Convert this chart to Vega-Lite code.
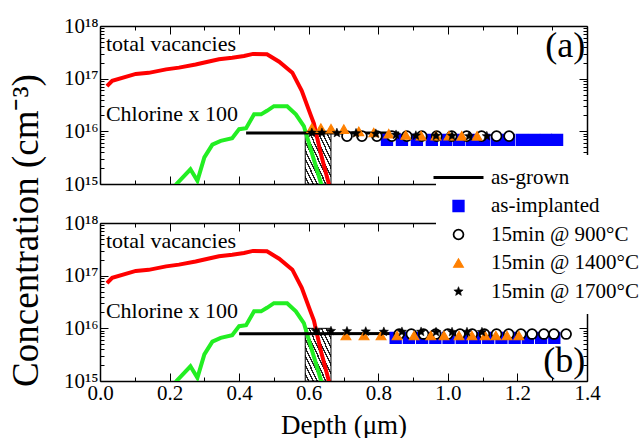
{
  "$schema": "https://vega.github.io/schema/vega-lite/v6.json",
  "padding": {"left": 8, "top": 15, "right": 0, "bottom": 0},
  "spacing": 39,
  "bounds": "flush",
  "title": {"text": "Concentration (cm⁻³)", "orient": "left", "anchor": "middle", "font": "Liberation Serif", "fontSize": 37, "fontWeight": "normal", "color": "black", "offset": 17, "dx": -4},
  "config": {
    "font": "Liberation Serif",
    "view": {"stroke": null},
    "axis": {"labelFont": "Liberation Serif", "titleFont": "Liberation Serif", "labelFontSize": 21, "titleFontSize": 27, "titleFontWeight": "normal", "domainColor": "black", "domainWidth": 1.5, "tickColor": "black", "tickWidth": 1, "labelColor": "black", "titleColor": "black", "grid": false, "labelFlush": false, "labelOverlap": false},
    "legend": {"orient": "none", "legendX": 336, "legendY": 129, "fillColor": "white", "padding": 12, "labelFont": "Liberation Serif", "labelFontSize": 21, "labelColor": "black", "labelOffset": 22, "rowPadding": 6.5, "zindex": 1, "symbolLimit": 0, "labelLimit": 300}
  },
  "datasets": {
    "vac": [
      {"d": 0.02, "c": 7.2e16}, {"d": 0.035, "c": 9.1e16}, {"d": 0.103, "c": 1.23e17}, {"d": 0.14, "c": 1.29e17},
      {"d": 0.19, "c": 1.5e17}, {"d": 0.227, "c": 1.62e17}, {"d": 0.275, "c": 1.86e17}, {"d": 0.31, "c": 2.1e17},
      {"d": 0.342, "c": 2.34e17}, {"d": 0.38, "c": 2.5e17}, {"d": 0.414, "c": 2.69e17}, {"d": 0.44, "c": 2.95e17},
      {"d": 0.48, "c": 2.9e17}, {"d": 0.515, "c": 2.1e17}, {"d": 0.553, "c": 1.3e17}, {"d": 0.58, "c": 5.9e16},
      {"d": 0.605, "c": 2.1e16}, {"d": 0.615, "c": 1.4e16}, {"d": 0.635, "c": 3.7e15}, {"d": 0.658, "c": 1.0e15},
      {"d": 0.665, "c": 7e14}
    ],
    "cl": [
      {"d": 0.21, "c": 8e14}, {"d": 0.22, "c": 1.0e15}, {"d": 0.26, "c": 1.9e15}, {"d": 0.28, "c": 1.15e15},
      {"d": 0.30, "c": 3.2e15}, {"d": 0.323, "c": 5.6e15}, {"d": 0.347, "c": 6.6e15}, {"d": 0.38, "c": 7.4e15},
      {"d": 0.40, "c": 1.1e16}, {"d": 0.42, "c": 1.15e16}, {"d": 0.443, "c": 2.1e16}, {"d": 0.463, "c": 2.1e16},
      {"d": 0.48, "c": 2.45e16}, {"d": 0.50, "c": 3.0e16}, {"d": 0.538, "c": 3.0e16}, {"d": 0.563, "c": 2.1e16},
      {"d": 0.586, "c": 1.26e16}, {"d": 0.61, "c": 3.7e15}, {"d": 0.635, "c": 1.05e15}, {"d": 0.642, "c": 7e14}
    ],
    "hatch": [{"d": 0.59, "d2": 0.664, "c": 1e15, "c2": 1e16}],
    "grown": [
      {"panel": "a", "series": "as-grown", "d": 0.42, "c": 9.3e15}, {"panel": "a", "series": "as-grown", "d": 0.86, "c": 9.3e15},
      {"panel": "b", "series": "as-grown", "d": 0.40, "c": 7.9e15}, {"panel": "b", "series": "as-grown", "d": 0.96, "c": 8.0e15}
    ],
    "pts": [
      {"panel": "a", "series": "as-implanted", "d": 0.825, "c": 6.9e15}, {"panel": "a", "series": "as-implanted", "d": 0.868, "c": 6.9e15},
      {"panel": "a", "series": "as-implanted", "d": 0.911, "c": 6.9e15}, {"panel": "a", "series": "as-implanted", "d": 0.954, "c": 6.9e15},
      {"panel": "a", "series": "as-implanted", "d": 0.995, "c": 6.9e15}, {"panel": "a", "series": "as-implanted", "d": 1.032, "c": 6.9e15},
      {"panel": "a", "series": "as-implanted", "d": 1.069, "c": 6.9e15}, {"panel": "a", "series": "as-implanted", "d": 1.104, "c": 6.9e15},
      {"panel": "a", "series": "as-implanted", "d": 1.141, "c": 6.9e15}, {"panel": "a", "series": "as-implanted", "d": 1.176, "c": 6.9e15},
      {"panel": "a", "series": "as-implanted", "d": 1.213, "c": 6.9e15}, {"panel": "a", "series": "as-implanted", "d": 1.248, "c": 6.9e15},
      {"panel": "a", "series": "as-implanted", "d": 1.282, "c": 6.9e15}, {"panel": "a", "series": "as-implanted", "d": 1.314, "c": 6.9e15},
      {"panel": "a", "series": "15min @ 900°C", "d": 0.710, "c": 8.1e15}, {"panel": "a", "series": "15min @ 900°C", "d": 0.753, "c": 8.1e15},
      {"panel": "a", "series": "15min @ 900°C", "d": 0.796, "c": 8.1e15}, {"panel": "a", "series": "15min @ 900°C", "d": 0.839, "c": 8.1e15},
      {"panel": "a", "series": "15min @ 900°C", "d": 0.882, "c": 8.1e15}, {"panel": "a", "series": "15min @ 900°C", "d": 0.925, "c": 8.1e15},
      {"panel": "a", "series": "15min @ 900°C", "d": 0.968, "c": 8.1e15}, {"panel": "a", "series": "15min @ 900°C", "d": 1.011, "c": 8.1e15},
      {"panel": "a", "series": "15min @ 900°C", "d": 1.054, "c": 8.1e15}, {"panel": "a", "series": "15min @ 900°C", "d": 1.097, "c": 8.1e15},
      {"panel": "a", "series": "15min @ 900°C", "d": 1.140, "c": 8.1e15}, {"panel": "a", "series": "15min @ 900°C", "d": 1.176, "c": 8.1e15},
      {"panel": "a", "series": "15min @ 1400°C", "d": 0.609, "c": 1.15e16}, {"panel": "a", "series": "15min @ 1400°C", "d": 0.635, "c": 1.15e16},
      {"panel": "a", "series": "15min @ 1400°C", "d": 0.664, "c": 1.12e16}, {"panel": "a", "series": "15min @ 1400°C", "d": 0.701, "c": 1.1e16},
      {"panel": "a", "series": "15min @ 1400°C", "d": 0.744, "c": 1.0e16}, {"panel": "a", "series": "15min @ 1400°C", "d": 0.787, "c": 9.5e15},
      {"panel": "a", "series": "15min @ 1400°C", "d": 0.830, "c": 9.0e15}, {"panel": "a", "series": "15min @ 1400°C", "d": 0.879, "c": 8.5e15},
      {"panel": "a", "series": "15min @ 1400°C", "d": 0.923, "c": 8.3e15}, {"panel": "a", "series": "15min @ 1400°C", "d": 0.966, "c": 8.3e15},
      {"panel": "a", "series": "15min @ 1400°C", "d": 1.003, "c": 8.3e15}, {"panel": "a", "series": "15min @ 1400°C", "d": 1.040, "c": 8.2e15},
      {"panel": "a", "series": "15min @ 1400°C", "d": 1.084, "c": 8.2e15},
      {"panel": "a", "series": "15min @ 1700°C", "d": 0.609, "c": 9.4e15}, {"panel": "a", "series": "15min @ 1700°C", "d": 0.638, "c": 9.4e15},
      {"panel": "a", "series": "15min @ 1700°C", "d": 0.681, "c": 9.3e15}, {"panel": "a", "series": "15min @ 1700°C", "d": 0.736, "c": 9.2e15},
      {"panel": "a", "series": "15min @ 1700°C", "d": 0.793, "c": 9.0e15}, {"panel": "a", "series": "15min @ 1700°C", "d": 0.851, "c": 8.6e15},
      {"panel": "a", "series": "15min @ 1700°C", "d": 0.908, "c": 8.3e15}, {"panel": "a", "series": "15min @ 1700°C", "d": 0.966, "c": 8.2e15},
      {"panel": "a", "series": "15min @ 1700°C", "d": 1.012, "c": 8.2e15}, {"panel": "a", "series": "15min @ 1700°C", "d": 1.061, "c": 8.1e15},
      {"panel": "a", "series": "15min @ 1700°C", "d": 1.112, "c": 8.1e15},
      {"panel": "b", "series": "as-implanted", "d": 0.85, "c": 6.6e15}, {"panel": "b", "series": "as-implanted", "d": 0.888, "c": 6.6e15},
      {"panel": "b", "series": "as-implanted", "d": 0.926, "c": 6.6e15}, {"panel": "b", "series": "as-implanted", "d": 0.964, "c": 6.6e15},
      {"panel": "b", "series": "as-implanted", "d": 1.002, "c": 6.6e15}, {"panel": "b", "series": "as-implanted", "d": 1.04, "c": 6.6e15},
      {"panel": "b", "series": "as-implanted", "d": 1.078, "c": 6.6e15}, {"panel": "b", "series": "as-implanted", "d": 1.116, "c": 6.6e15},
      {"panel": "b", "series": "as-implanted", "d": 1.154, "c": 6.6e15}, {"panel": "b", "series": "as-implanted", "d": 1.192, "c": 6.6e15},
      {"panel": "b", "series": "as-implanted", "d": 1.23, "c": 6.6e15}, {"panel": "b", "series": "as-implanted", "d": 1.268, "c": 6.6e15},
      {"panel": "b", "series": "as-implanted", "d": 1.306, "c": 6.6e15},
      {"panel": "b", "series": "15min @ 900°C", "d": 0.86, "c": 7.8e15}, {"panel": "b", "series": "15min @ 900°C", "d": 0.895, "c": 7.8e15},
      {"panel": "b", "series": "15min @ 900°C", "d": 0.93, "c": 7.8e15}, {"panel": "b", "series": "15min @ 900°C", "d": 0.965, "c": 7.8e15},
      {"panel": "b", "series": "15min @ 900°C", "d": 1.0, "c": 7.8e15}, {"panel": "b", "series": "15min @ 900°C", "d": 1.035, "c": 7.8e15},
      {"panel": "b", "series": "15min @ 900°C", "d": 1.07, "c": 7.8e15}, {"panel": "b", "series": "15min @ 900°C", "d": 1.105, "c": 7.8e15},
      {"panel": "b", "series": "15min @ 900°C", "d": 1.14, "c": 7.8e15}, {"panel": "b", "series": "15min @ 900°C", "d": 1.175, "c": 7.8e15},
      {"panel": "b", "series": "15min @ 900°C", "d": 1.21, "c": 7.8e15}, {"panel": "b", "series": "15min @ 900°C", "d": 1.242, "c": 7.8e15},
      {"panel": "b", "series": "15min @ 900°C", "d": 1.276, "c": 7.8e15}, {"panel": "b", "series": "15min @ 900°C", "d": 1.305, "c": 7.8e15},
      {"panel": "b", "series": "15min @ 900°C", "d": 1.34, "c": 7.8e15},
      {"panel": "b", "series": "15min @ 1400°C", "d": 0.707, "c": 7.3e15}, {"panel": "b", "series": "15min @ 1400°C", "d": 0.759, "c": 7.3e15},
      {"panel": "b", "series": "15min @ 1400°C", "d": 0.808, "c": 7.3e15}, {"panel": "b", "series": "15min @ 1400°C", "d": 0.854, "c": 7.3e15},
      {"panel": "b", "series": "15min @ 1400°C", "d": 0.903, "c": 7.3e15}, {"panel": "b", "series": "15min @ 1400°C", "d": 0.951, "c": 7.3e15},
      {"panel": "b", "series": "15min @ 1400°C", "d": 0.989, "c": 7.3e15}, {"panel": "b", "series": "15min @ 1400°C", "d": 1.032, "c": 7.3e15},
      {"panel": "b", "series": "15min @ 1400°C", "d": 1.069, "c": 7.3e15}, {"panel": "b", "series": "15min @ 1400°C", "d": 1.107, "c": 7.3e15},
      {"panel": "b", "series": "15min @ 1400°C", "d": 1.138, "c": 7.3e15}, {"panel": "b", "series": "15min @ 1400°C", "d": 1.170, "c": 7.3e15},
      {"panel": "b", "series": "15min @ 1400°C", "d": 1.204, "c": 7.3e15},
      {"panel": "b", "series": "15min @ 1700°C", "d": 0.621, "c": 8.9e15}, {"panel": "b", "series": "15min @ 1700°C", "d": 0.664, "c": 8.9e15},
      {"panel": "b", "series": "15min @ 1700°C", "d": 0.710, "c": 8.8e15}, {"panel": "b", "series": "15min @ 1700°C", "d": 0.764, "c": 8.7e15},
      {"panel": "b", "series": "15min @ 1700°C", "d": 0.816, "c": 8.6e15}, {"panel": "b", "series": "15min @ 1700°C", "d": 0.868, "c": 8.6e15},
      {"panel": "b", "series": "15min @ 1700°C", "d": 0.923, "c": 8.6e15}, {"panel": "b", "series": "15min @ 1700°C", "d": 0.966, "c": 8.5e15},
      {"panel": "b", "series": "15min @ 1700°C", "d": 1.012, "c": 8.5e15}, {"panel": "b", "series": "15min @ 1700°C", "d": 1.055, "c": 8.5e15},
      {"panel": "b", "series": "15min @ 1700°C", "d": 1.098, "c": 8.5e15}
    ],
    "notes": [
      {"panel": "a", "label": "total vacancies", "d": 0.017, "c": 4.6e17},
      {"panel": "a", "label": "Chlorine x 100", "d": 0.017, "c": 2.1e16},
      {"panel": "b", "label": "total vacancies", "d": 0.017, "c": 4.6e17},
      {"panel": "b", "label": "Chlorine x 100", "d": 0.017, "c": 2.1e16}
    ],
    "letters": [
      {"panel": "a", "label": "(a)", "d": 1.395, "c": 4.2e17},
      {"panel": "b", "label": "(b)", "d": 1.395, "c": 2.4e15}
    ]
  },
  "vconcat": [
    {
      "width": 487, "height": 158,
      "resolve": {"axis": {"x": "independent", "y": "independent"}},
      "layer": [
        {
          "data": {"name": "hatch"},
          "mark": {"type": "rect", "stroke": "black", "strokeWidth": 1, "fill": {"gradient": "linear", "x1": 0, "y1": 1, "x2": 1, "y2": 0, "stops": [
            {"offset": 0, "color": "white"}, {"offset": 0.0542, "color": "white"}, {"offset": 0.0542, "color": "#222"}, {"offset": 0.0833, "color": "#222"},
            {"offset": 0.0833, "color": "white"}, {"offset": 0.1375, "color": "white"}, {"offset": 0.1375, "color": "#222"}, {"offset": 0.1667, "color": "#222"},
            {"offset": 0.1667, "color": "white"}, {"offset": 0.2208, "color": "white"}, {"offset": 0.2208, "color": "#222"}, {"offset": 0.25, "color": "#222"},
            {"offset": 0.25, "color": "white"}, {"offset": 0.3042, "color": "white"}, {"offset": 0.3042, "color": "#222"}, {"offset": 0.3333, "color": "#222"},
            {"offset": 0.3333, "color": "white"}, {"offset": 0.3875, "color": "white"}, {"offset": 0.3875, "color": "#222"}, {"offset": 0.4167, "color": "#222"},
            {"offset": 0.4167, "color": "white"}, {"offset": 0.4708, "color": "white"}, {"offset": 0.4708, "color": "#222"}, {"offset": 0.5, "color": "#222"},
            {"offset": 0.5, "color": "white"}, {"offset": 0.5542, "color": "white"}, {"offset": 0.5542, "color": "#222"}, {"offset": 0.5833, "color": "#222"},
            {"offset": 0.5833, "color": "white"}, {"offset": 0.6375, "color": "white"}, {"offset": 0.6375, "color": "#222"}, {"offset": 0.6667, "color": "#222"},
            {"offset": 0.6667, "color": "white"}, {"offset": 0.7208, "color": "white"}, {"offset": 0.7208, "color": "#222"}, {"offset": 0.75, "color": "#222"},
            {"offset": 0.75, "color": "white"}, {"offset": 0.8042, "color": "white"}, {"offset": 0.8042, "color": "#222"}, {"offset": 0.8333, "color": "#222"},
            {"offset": 0.8333, "color": "white"}, {"offset": 0.8875, "color": "white"}, {"offset": 0.8875, "color": "#222"}, {"offset": 0.9167, "color": "#222"},
            {"offset": 0.9167, "color": "white"}, {"offset": 0.9708, "color": "white"}, {"offset": 0.9708, "color": "#222"}, {"offset": 1, "color": "#222"}
          ]}},
          "encoding": {
            "x": {"field": "d", "type": "quantitative", "scale": {"domain": [0, 1.4], "nice": false, "zero": false},
              "axis": {"orient": "bottom", "values": [0, 0.1, 0.2, 0.3, 0.4, 0.5, 0.6, 0.7, 0.8, 0.9, 1.0, 1.1, 1.2, 1.3, 1.4], "labels": false, "title": null,
                "tickSize": {"condition": {"test": "abs(datum.value*5-round(datum.value*5))<0.001", "value": -8}, "value": -4}}},
            "x2": {"field": "d2"},
            "y": {"field": "c", "type": "quantitative", "scale": {"type": "log", "domain": [1e15, 1e18], "nice": false},
              "axis": {"orient": "left", "title": null, "labelPadding": 10, "labelFontSize": 21, "labelFont": "Liberation Serif",
                "values": [1e15, 2e15, 3e15, 4e15, 5e15, 6e15, 7e15, 8e15, 9e15, 1e16, 2e16, 3e16, 4e16, 5e16, 6e16, 7e16, 8e16, 9e16, 1e17, 2e17, 3e17, 4e17, 5e17, 6e17, 7e17, 8e17, 9e17, 1e18],
                "labelExpr": "abs(log(datum.value)/LN10-round(log(datum.value)/LN10))>0.001 ? '' : '10' + replace(replace(replace(replace(replace('' + round(log(datum.value)/LN10), '1', '¹'), '5', '⁵'), '6', '⁶'), '7', '⁷'), '8', '⁸')",
                "tickSize": {"condition": {"test": "abs(log(datum.value)/LN10-round(log(datum.value)/LN10))<0.001", "value": -8}, "value": -4}}},
            "y2": {"field": "c2"}
          }
        },
        {
          "data": {"name": "vac"},
          "mark": {"type": "line", "color": "#ff0000", "strokeWidth": 4, "clip": true},
          "encoding": {
            "x": {"field": "d", "type": "quantitative", "scale": {"domain": [0, 1.4], "nice": false, "zero": false},
              "axis": {"orient": "top", "values": [0, 0.1, 0.2, 0.3, 0.4, 0.5, 0.6, 0.7, 0.8, 0.9, 1.0, 1.1, 1.2, 1.3, 1.4], "labels": false, "title": null,
                "tickSize": {"condition": {"test": "abs(datum.value*5-round(datum.value*5))<0.001", "value": -8}, "value": -4}}},
            "y": {"field": "c", "type": "quantitative", "scale": {"type": "log", "domain": [1e15, 1e18], "nice": false},
              "axis": {"orient": "right", "title": null, "labels": false,
                "values": [1e15, 2e15, 3e15, 4e15, 5e15, 6e15, 7e15, 8e15, 9e15, 1e16, 2e16, 3e16, 4e16, 5e16, 6e16, 7e16, 8e16, 9e16, 1e17, 2e17, 3e17, 4e17, 5e17, 6e17, 7e17, 8e17, 9e17, 1e18],
                "tickSize": {"condition": {"test": "abs(log(datum.value)/LN10-round(log(datum.value)/LN10))<0.001", "value": -8}, "value": -4}}}
          }
        },
        {
          "data": {"name": "cl"},
          "mark": {"type": "line", "color": "#22ee22", "strokeWidth": 4, "clip": true},
          "encoding": {
            "x": {"field": "d", "type": "quantitative", "axis": null},
            "y": {"field": "c", "type": "quantitative", "axis": null}
          }
        },
        {
          "data": {"name": "grown"},
          "transform": [{"filter": "datum.panel == 'a'"}],
          "mark": {"type": "line", "clip": true},
          "encoding": {
            "x": {"field": "d", "type": "quantitative", "axis": null},
            "y": {"field": "c", "type": "quantitative", "axis": null},
            "stroke": {"field": "series", "type": "nominal", "title": null, "scale": {"domain": ["as-grown", "as-implanted", "15min @ 900°C", "15min @ 1400°C", "15min @ 1700°C"], "range": ["black", "#0000ff", "black", "#ff8000", "black"]}},
            "strokeWidth": {"field": "series", "type": "nominal", "title": null, "scale": {"domain": ["as-grown", "as-implanted", "15min @ 900°C", "15min @ 1400°C", "15min @ 1700°C"], "range": [3, 0.5, 1, 0.5, 0.5]}}
          }
        },
        {
          "data": {"name": "pts"},
          "transform": [{"filter": "datum.panel == 'a'"}],
          "mark": {"type": "point", "opacity": 1, "clip": true},
          "encoding": {
            "x": {"field": "d", "type": "quantitative", "axis": null},
            "y": {"field": "c", "type": "quantitative", "axis": null},
            "shape": {"field": "series", "type": "nominal", "title": null, "scale": {"domain": ["as-grown", "as-implanted", "15min @ 900°C", "15min @ 1400°C", "15min @ 1700°C"], "range": ["M-5,0H5", "square", "circle", "triangle-up", "M0,-1L0.2645,-0.364L0.951,-0.309L0.428,0.139L0.588,0.809L0,0.45L-0.588,0.809L-0.428,0.139L-0.951,-0.309L-0.2645,-0.364Z"]}},
            "fill": {"field": "series", "type": "nominal", "title": null, "scale": {"domain": ["as-grown", "as-implanted", "15min @ 900°C", "15min @ 1400°C", "15min @ 1700°C"], "range": ["black", "#0000ff", "white", "#ff8000", "black"]}},
            "stroke": {"field": "series", "type": "nominal", "title": null, "scale": {"domain": ["as-grown", "as-implanted", "15min @ 900°C", "15min @ 1400°C", "15min @ 1700°C"], "range": ["black", "#0000ff", "black", "#ff8000", "black"]}},
            "size": {"field": "series", "type": "nominal", "title": null, "scale": {"domain": ["as-grown", "as-implanted", "15min @ 900°C", "15min @ 1400°C", "15min @ 1700°C"], "range": [100, 95, 135, 250, 300]}},
            "strokeWidth": {"field": "series", "type": "nominal", "title": null, "scale": {"domain": ["as-grown", "as-implanted", "15min @ 900°C", "15min @ 1400°C", "15min @ 1700°C"], "range": [3, 0.5, 1, 0.5, 0.5]}}
          }
        },
        {
          "data": {"name": "notes"},
          "transform": [{"filter": "datum.panel == 'a'"}],
          "mark": {"type": "text", "align": "left", "baseline": "middle", "fontSize": 22, "font": "Liberation Serif", "color": "black"},
          "encoding": {
            "x": {"field": "d", "type": "quantitative", "axis": null},
            "y": {"field": "c", "type": "quantitative", "axis": null},
            "text": {"field": "label"}
          }
        },
        {
          "data": {"name": "letters"},
          "transform": [{"filter": "datum.panel == 'a'"}],
          "mark": {"type": "text", "align": "right", "baseline": "middle", "fontSize": 36, "font": "Liberation Serif", "color": "black"},
          "encoding": {
            "x": {"field": "d", "type": "quantitative", "axis": null},
            "y": {"field": "c", "type": "quantitative", "axis": null},
            "text": {"field": "label"}
          }
        }
      ]
    },
    {
      "width": 487, "height": 158,
      "resolve": {"axis": {"x": "independent", "y": "independent"}},
      "layer": [
        {
          "data": {"name": "hatch"},
          "mark": {"type": "rect", "stroke": "black", "strokeWidth": 1, "fill": {"gradient": "linear", "x1": 0, "y1": 1, "x2": 1, "y2": 0, "stops": [
            {"offset": 0, "color": "white"}, {"offset": 0.0542, "color": "white"}, {"offset": 0.0542, "color": "#222"}, {"offset": 0.0833, "color": "#222"},
            {"offset": 0.0833, "color": "white"}, {"offset": 0.1375, "color": "white"}, {"offset": 0.1375, "color": "#222"}, {"offset": 0.1667, "color": "#222"},
            {"offset": 0.1667, "color": "white"}, {"offset": 0.2208, "color": "white"}, {"offset": 0.2208, "color": "#222"}, {"offset": 0.25, "color": "#222"},
            {"offset": 0.25, "color": "white"}, {"offset": 0.3042, "color": "white"}, {"offset": 0.3042, "color": "#222"}, {"offset": 0.3333, "color": "#222"},
            {"offset": 0.3333, "color": "white"}, {"offset": 0.3875, "color": "white"}, {"offset": 0.3875, "color": "#222"}, {"offset": 0.4167, "color": "#222"},
            {"offset": 0.4167, "color": "white"}, {"offset": 0.4708, "color": "white"}, {"offset": 0.4708, "color": "#222"}, {"offset": 0.5, "color": "#222"},
            {"offset": 0.5, "color": "white"}, {"offset": 0.5542, "color": "white"}, {"offset": 0.5542, "color": "#222"}, {"offset": 0.5833, "color": "#222"},
            {"offset": 0.5833, "color": "white"}, {"offset": 0.6375, "color": "white"}, {"offset": 0.6375, "color": "#222"}, {"offset": 0.6667, "color": "#222"},
            {"offset": 0.6667, "color": "white"}, {"offset": 0.7208, "color": "white"}, {"offset": 0.7208, "color": "#222"}, {"offset": 0.75, "color": "#222"},
            {"offset": 0.75, "color": "white"}, {"offset": 0.8042, "color": "white"}, {"offset": 0.8042, "color": "#222"}, {"offset": 0.8333, "color": "#222"},
            {"offset": 0.8333, "color": "white"}, {"offset": 0.8875, "color": "white"}, {"offset": 0.8875, "color": "#222"}, {"offset": 0.9167, "color": "#222"},
            {"offset": 0.9167, "color": "white"}, {"offset": 0.9708, "color": "white"}, {"offset": 0.9708, "color": "#222"}, {"offset": 1, "color": "#222"}
          ]}},
          "encoding": {
            "x": {"field": "d", "type": "quantitative", "scale": {"domain": [0, 1.4], "nice": false, "zero": false},
              "axis": {"orient": "bottom", "values": [0, 0.1, 0.2, 0.3, 0.4, 0.5, 0.6, 0.7, 0.8, 0.9, 1.0, 1.1, 1.2, 1.3, 1.4], "title": "Depth (μm)", "titlePadding": 5, "labelPadding": 9,
                "titleFontSize": 27, "titleFont": "Liberation Serif", "labelFontSize": 21, "labelFont": "Liberation Serif",
                "labelExpr": "abs(datum.value*5-round(datum.value*5))<0.001 ? format(datum.value, '.1f') : ''",
                "tickSize": {"condition": {"test": "abs(datum.value*5-round(datum.value*5))<0.001", "value": -8}, "value": -4}}},
            "x2": {"field": "d2"},
            "y": {"field": "c", "type": "quantitative", "scale": {"type": "log", "domain": [1e15, 1e18], "nice": false},
              "axis": {"orient": "left", "title": null, "labelPadding": 10, "labelFontSize": 21, "labelFont": "Liberation Serif",
                "values": [1e15, 2e15, 3e15, 4e15, 5e15, 6e15, 7e15, 8e15, 9e15, 1e16, 2e16, 3e16, 4e16, 5e16, 6e16, 7e16, 8e16, 9e16, 1e17, 2e17, 3e17, 4e17, 5e17, 6e17, 7e17, 8e17, 9e17, 1e18],
                "labelExpr": "abs(log(datum.value)/LN10-round(log(datum.value)/LN10))>0.001 ? '' : '10' + replace(replace(replace(replace(replace('' + round(log(datum.value)/LN10), '1', '¹'), '5', '⁵'), '6', '⁶'), '7', '⁷'), '8', '⁸')",
                "tickSize": {"condition": {"test": "abs(log(datum.value)/LN10-round(log(datum.value)/LN10))<0.001", "value": -8}, "value": -4}}},
            "y2": {"field": "c2"}
          }
        },
        {
          "data": {"name": "vac"},
          "mark": {"type": "line", "color": "#ff0000", "strokeWidth": 4, "clip": true},
          "encoding": {
            "x": {"field": "d", "type": "quantitative", "scale": {"domain": [0, 1.4], "nice": false, "zero": false},
              "axis": {"orient": "top", "values": [0, 0.1, 0.2, 0.3, 0.4, 0.5, 0.6, 0.7, 0.8, 0.9, 1.0, 1.1, 1.2, 1.3, 1.4], "labels": false, "title": null,
                "tickSize": {"condition": {"test": "abs(datum.value*5-round(datum.value*5))<0.001", "value": -8}, "value": -4}}},
            "y": {"field": "c", "type": "quantitative", "scale": {"type": "log", "domain": [1e15, 1e18], "nice": false},
              "axis": {"orient": "right", "title": null, "labels": false,
                "values": [1e15, 2e15, 3e15, 4e15, 5e15, 6e15, 7e15, 8e15, 9e15, 1e16, 2e16, 3e16, 4e16, 5e16, 6e16, 7e16, 8e16, 9e16, 1e17, 2e17, 3e17, 4e17, 5e17, 6e17, 7e17, 8e17, 9e17, 1e18],
                "tickSize": {"condition": {"test": "abs(log(datum.value)/LN10-round(log(datum.value)/LN10))<0.001", "value": -8}, "value": -4}}}
          }
        },
        {
          "data": {"name": "cl"},
          "mark": {"type": "line", "color": "#22ee22", "strokeWidth": 4, "clip": true},
          "encoding": {
            "x": {"field": "d", "type": "quantitative", "axis": null},
            "y": {"field": "c", "type": "quantitative", "axis": null}
          }
        },
        {
          "data": {"name": "grown"},
          "transform": [{"filter": "datum.panel == 'b'"}],
          "mark": {"type": "line", "clip": true},
          "encoding": {
            "x": {"field": "d", "type": "quantitative", "axis": null},
            "y": {"field": "c", "type": "quantitative", "axis": null},
            "stroke": {"field": "series", "type": "nominal", "title": null, "scale": {"domain": ["as-grown", "as-implanted", "15min @ 900°C", "15min @ 1400°C", "15min @ 1700°C"], "range": ["black", "#0000ff", "black", "#ff8000", "black"]}},
            "strokeWidth": {"field": "series", "type": "nominal", "title": null, "scale": {"domain": ["as-grown", "as-implanted", "15min @ 900°C", "15min @ 1400°C", "15min @ 1700°C"], "range": [3, 0.5, 1, 0.5, 0.5]}}
          }
        },
        {
          "data": {"name": "pts"},
          "transform": [{"filter": "datum.panel == 'b'"}],
          "mark": {"type": "point", "opacity": 1, "clip": true},
          "encoding": {
            "x": {"field": "d", "type": "quantitative", "axis": null},
            "y": {"field": "c", "type": "quantitative", "axis": null},
            "shape": {"field": "series", "type": "nominal", "title": null, "scale": {"domain": ["as-grown", "as-implanted", "15min @ 900°C", "15min @ 1400°C", "15min @ 1700°C"], "range": ["M-5,0H5", "square", "circle", "triangle-up", "M0,-1L0.2645,-0.364L0.951,-0.309L0.428,0.139L0.588,0.809L0,0.45L-0.588,0.809L-0.428,0.139L-0.951,-0.309L-0.2645,-0.364Z"]}},
            "fill": {"field": "series", "type": "nominal", "title": null, "scale": {"domain": ["as-grown", "as-implanted", "15min @ 900°C", "15min @ 1400°C", "15min @ 1700°C"], "range": ["black", "#0000ff", "white", "#ff8000", "black"]}},
            "stroke": {"field": "series", "type": "nominal", "title": null, "scale": {"domain": ["as-grown", "as-implanted", "15min @ 900°C", "15min @ 1400°C", "15min @ 1700°C"], "range": ["black", "#0000ff", "black", "#ff8000", "black"]}},
            "size": {"field": "series", "type": "nominal", "title": null, "scale": {"domain": ["as-grown", "as-implanted", "15min @ 900°C", "15min @ 1400°C", "15min @ 1700°C"], "range": [100, 95, 135, 250, 300]}},
            "strokeWidth": {"field": "series", "type": "nominal", "title": null, "scale": {"domain": ["as-grown", "as-implanted", "15min @ 900°C", "15min @ 1400°C", "15min @ 1700°C"], "range": [3, 0.5, 1, 0.5, 0.5]}}
          }
        },
        {
          "data": {"name": "notes"},
          "transform": [{"filter": "datum.panel == 'b'"}],
          "mark": {"type": "text", "align": "left", "baseline": "middle", "fontSize": 22, "font": "Liberation Serif", "color": "black"},
          "encoding": {
            "x": {"field": "d", "type": "quantitative", "axis": null},
            "y": {"field": "c", "type": "quantitative", "axis": null},
            "text": {"field": "label"}
          }
        },
        {
          "data": {"name": "letters"},
          "transform": [{"filter": "datum.panel == 'b'"}],
          "mark": {"type": "text", "align": "right", "baseline": "middle", "fontSize": 36, "font": "Liberation Serif", "color": "black"},
          "encoding": {
            "x": {"field": "d", "type": "quantitative", "axis": null},
            "y": {"field": "c", "type": "quantitative", "axis": null},
            "text": {"field": "label"}
          }
        }
      ]
    }
  ]
}
